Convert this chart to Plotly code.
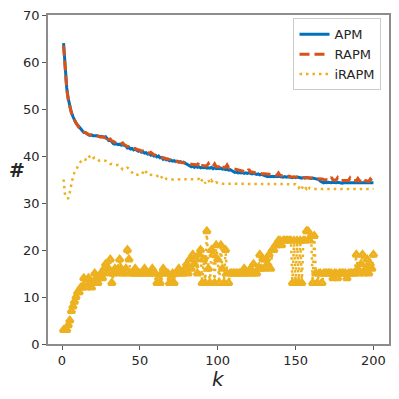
import plotly.graph_objects as go

# ── Colours (MATLAB-like palette) ─────────────────────────────────────────────
BLUE = "#0072BD"
ORANGE = "#D95319"
YELLOW = "#EDB120"
FRAME = "#8c8c8c"
TEXT = "#262626"

# ── Data ─────────────────────────────────────────────────────────────────────
k = list(range(1, 201))

apm = [
    64.0, 58.0, 54.6, 52.2, 50.6, 49.3, 48.4, 47.6, 47.0, 46.6,
    46.2, 45.7, 45.4, 45.0, 45.0, 44.7, 44.5, 44.4, 44.5, 44.3,
    44.3, 44.2, 44.3, 44.1, 44.2, 44.1, 44.0, 44.1, 43.6, 43.3,
    43.4, 43.0, 42.6, 42.5, 42.6, 42.4, 42.5, 42.3, 42.4, 42.3,
    42.1, 41.7, 41.8, 41.5, 41.6, 41.3, 41.5, 41.2, 41.0, 41.2,
    40.8, 40.9, 40.6, 40.7, 40.4, 40.5, 40.2, 40.4, 40.0, 40.1,
    39.8, 40.0, 39.6, 39.7, 39.3, 39.5, 39.2, 39.3, 39.0, 39.1,
    38.9, 39.0, 38.8, 38.9, 38.7, 38.8, 38.6, 38.7, 38.5, 38.4,
    38.2, 38.0, 37.7, 37.9, 37.6, 37.8, 37.6, 37.7, 37.5, 37.6,
    37.5, 37.6, 37.4, 37.5, 37.4, 37.6, 37.3, 37.5, 37.3, 37.4,
    37.3, 37.4, 37.2, 37.3, 37.1, 37.2, 37.0, 37.1, 36.9, 36.6,
    36.5, 36.6, 36.4, 36.5, 36.4, 36.5, 36.3, 36.4, 36.3, 36.4,
    36.3, 36.2, 36.3, 36.2, 36.1, 36.2, 36.0, 36.1, 36.0, 35.9,
    35.8, 35.6, 35.7, 35.6, 35.7, 35.6, 35.7, 35.6, 35.7, 35.6,
    35.6, 35.5, 35.6, 35.5, 35.6, 35.5, 35.5, 35.4, 35.5, 35.4,
    35.5, 35.4, 35.4, 35.3, 35.4, 35.3, 35.4, 35.3, 35.3, 35.2,
    35.3, 35.2, 35.2, 35.1, 35.0, 34.6, 34.4, 34.3, 34.4, 34.3,
    34.4, 34.3, 34.3, 34.4, 34.3, 34.3, 34.4, 34.3, 34.3, 34.2,
    34.3, 34.3, 34.2, 34.3, 34.3, 34.2, 34.3, 34.2, 34.3, 34.2,
    34.3, 34.2, 34.3, 34.2, 34.3, 34.2, 34.3, 34.2, 34.3, 34.3,
]

rapm = [
    63.5, 57.6, 54.3, 52.0, 50.5, 49.2, 48.3, 47.6, 47.0, 46.5,
    46.0, 45.6, 45.3, 45.1, 45.0, 44.8, 44.6, 44.5, 44.4, 44.3,
    44.2, 44.3, 44.2, 44.1, 44.0, 44.1, 44.0, 43.8, 44.3, 43.5,
    43.6, 43.2, 43.1, 42.8, 42.7, 42.6, 42.5, 42.6, 42.8, 42.4,
    42.2, 42.0, 42.0, 41.9, 41.8, 41.7, 41.6, 41.5, 41.4, 41.2,
    41.0, 41.1, 40.9, 40.8, 40.7, 40.6, 40.8, 40.5, 40.3, 40.2,
    40.0, 39.9, 39.8, 39.7, 39.6, 39.5, 39.4, 39.4, 39.3, 39.2,
    39.0, 38.9, 38.9, 38.8, 38.7, 38.7, 38.6, 38.5, 38.5, 38.4,
    38.4, 38.3, 38.3, 38.2, 38.2, 38.1, 38.1, 38.7, 38.0, 38.0,
    37.9, 37.9, 37.9, 38.4, 37.8, 37.8, 37.8, 38.3, 37.7, 37.7,
    37.7, 38.2, 37.6, 37.6, 37.6, 38.1, 37.5, 37.5, 37.4, 37.3,
    37.2, 37.1, 37.0, 36.9, 36.8, 36.8, 36.7, 36.7, 36.6, 37.2,
    36.6, 36.6, 36.5, 36.5, 36.4, 36.4, 36.3, 36.3, 36.2, 36.2,
    36.2, 36.1, 36.1, 36.0, 36.0, 36.0, 35.9, 35.9, 36.4, 35.9,
    35.8, 35.8, 35.8, 35.7, 35.7, 35.7, 35.6, 35.6, 35.6, 35.6,
    35.5, 35.5, 35.5, 35.5, 35.4, 35.4, 35.4, 35.4, 35.3, 35.3,
    35.3, 35.2, 35.2, 35.2, 35.1, 35.1, 35.1, 35.0, 35.0, 35.0,
    35.0, 34.9, 35.5, 34.9, 34.9, 34.9, 35.4, 34.9, 34.8, 34.8,
    34.8, 34.8, 34.8, 34.8, 35.3, 34.8, 34.8, 34.7, 34.7, 35.2,
    34.7, 34.7, 34.7, 35.2, 34.7, 34.7, 34.6, 35.1, 34.7, 34.7,
]

irapm = [
    35.0, 31.5, 31.0, 31.0, 32.3, 34.0, 35.5, 36.5, 37.2, 37.8,
    38.3, 38.8, 39.3, 39.3, 39.2, 39.8, 40.1, 39.7, 39.2, 39.5,
    39.7, 39.5, 39.2, 39.0, 39.0, 39.0, 39.0, 39.0, 38.8, 38.5,
    38.3, 38.3, 38.2, 38.2, 38.1, 38.1, 38.0, 37.5, 37.1, 37.2,
    37.4, 37.5, 37.3, 37.0, 36.5, 36.0, 36.0, 36.0, 36.0, 36.0,
    36.0, 36.5, 37.1, 36.6, 36.0, 36.0, 36.0, 36.0, 35.9, 35.8,
    35.8, 35.5, 35.1, 35.5, 35.8, 35.6, 35.1, 35.1, 35.0, 35.0,
    35.0, 35.0, 35.0, 35.0, 35.0, 35.0, 35.0, 35.0, 35.0, 35.0,
    35.0, 35.0, 35.0, 35.0, 35.0, 35.0, 35.0, 35.1, 34.4, 34.9,
    35.1, 34.2, 34.8, 34.9, 34.2, 34.8, 34.3, 34.1, 34.4, 34.2,
    34.1, 34.1, 34.1, 34.1, 34.1, 34.1, 34.1, 34.1, 34.1, 34.1,
    34.1, 34.1, 34.1, 34.1, 34.1, 34.1, 34.1, 34.1, 34.1, 34.1,
    34.1, 34.1, 34.1, 34.1, 34.1, 34.1, 34.1, 34.1, 34.1, 34.1,
    34.1, 34.1, 34.1, 34.1, 34.1, 34.1, 34.1, 34.1, 34.1, 34.1,
    34.1, 34.1, 34.1, 34.1, 34.1, 34.1, 34.0, 34.0, 34.0, 34.0,
    33.7, 33.2, 33.6, 33.0, 33.8, 33.4, 33.0, 33.6, 33.1, 33.0,
    33.0, 33.0, 33.0, 33.0, 33.0, 33.0, 33.0, 33.0, 33.0, 33.0,
    33.0, 33.0, 33.0, 33.0, 33.0, 33.0, 33.0, 33.0, 33.0, 33.0,
    33.0, 33.0, 33.0, 33.0, 33.0, 33.0, 33.0, 33.0, 33.0, 33.0,
    33.0, 33.0, 33.0, 33.0, 33.0, 33.0, 33.0, 33.0, 33.0, 33.0,
]

lower = [
    3, 3, 3, 4, 5, 7, 8, 9, 10, 11,
    11, 12, 12, 14, 13, 12, 14, 13, 12, 13,
    15, 14, 13, 14, 15, 14, 16, 17, 15, 16,
    18, 13, 15, 16, 15, 16, 18, 16, 15, 15,
    16, 20, 18, 15, 15, 15, 16, 15, 15, 15,
    15, 15, 16, 15, 15, 15, 15, 16, 15, 15,
    13, 14, 13, 15, 16, 15, 15, 15, 13, 14,
    15, 13, 15, 15, 16, 15, 15, 15, 16, 17,
    15, 18, 16, 19, 17, 18, 15, 19, 20, 13,
    18, 13, 24, 16, 13, 20, 19, 13, 21, 18,
    13, 21, 16, 13, 20, 15, 13, 15, 15, 15,
    15, 15, 15, 15, 15, 15, 16, 15, 15, 15,
    16, 15, 17, 15, 15, 16, 19, 16, 18, 16,
    18, 17, 19, 16, 20, 20, 21, 21, 22, 22,
    21, 22, 22, 22, 22, 22, 22, 13, 22, 13,
    22, 13, 22, 13, 22, 22, 24, 24, 22, 23,
    13, 23, 15, 13, 15, 15, 13, 15, 15, 15,
    15, 15, 15, 14, 15, 15, 14, 15, 15, 15,
    15, 15, 14, 15, 15, 15, 15, 15, 19, 16,
    15, 17, 19, 15, 16, 18, 15, 17, 16, 19,
]

x_ticks = [0, 50, 100, 150, 200]
y_ticks = [0, 10, 20, 30, 40, 50, 60, 70]

# ── Figure ───────────────────────────────────────────────────────────────────
fig = go.Figure()

fig.add_trace(go.Scatter(
    x=k, y=apm, name="APM", mode="lines",
    line=dict(color=BLUE, width=3),
))
fig.add_trace(go.Scatter(
    x=k, y=rapm, name="RAPM", mode="lines",
    line=dict(color=ORANGE, width=3, dash="10px,5px"),
))
fig.add_trace(go.Scatter(
    x=k, y=irapm, name="iRAPM", mode="lines",
    line=dict(color=YELLOW, width=2.5, dash="2.5px,4px"),
))
fig.add_trace(go.Scatter(
    x=k, y=lower, mode="lines+markers", showlegend=False,
    line=dict(color=YELLOW, width=2.5, dash="2.5px,4px"),
    marker=dict(symbol="triangle-up-open", size=6, color=YELLOW,
                line=dict(color=YELLOW, width=3)),
))

axis_common = dict(
    showgrid=False, zeroline=False, automargin=False,
    ticklabeloverflow="allow",
    showline=True, mirror=True, linecolor=FRAME, linewidth=1.5,
    ticks="outside", ticklen=4, tickwidth=1, tickcolor="#555555",
    tickfont=dict(family="DejaVu Sans", size=13, color=TEXT),
)

# the page body adds an 8px offset, so the figure is drawn 8px smaller
fig.update_layout(
    width=391, height=391,
    paper_bgcolor="white", plot_bgcolor="white",
    margin=dict(l=40, r=10, t=7, b=55),
    xaxis=dict(range=[-9, 210], tickvals=x_ticks, **axis_common),
    yaxis=dict(range=[0, 70], tickvals=y_ticks, **axis_common),
    legend=dict(
        x=0.978, y=0.99, xanchor="right", yanchor="top",
        bgcolor="rgba(255,255,255,0.85)", bordercolor="#cccccc", borderwidth=1,
        font=dict(family="DejaVu Sans", size=13, color=TEXT),
        itemwidth=30, tracegroupgap=0,
    ),
    annotations=[
        dict(text="<i>k</i>", x=0.5, y=-0.105, xref="paper", yref="paper",
             showarrow=False, xanchor="center", yanchor="middle",
             font=dict(family="DejaVu Sans", size=20, color=TEXT)),
        dict(text="<b>#</b>", x=-0.092, y=0.53, xref="paper", yref="paper",
             showarrow=False, xanchor="center", yanchor="middle",
             font=dict(family="DejaVu Sans", size=19, color=TEXT)),
    ],
)

fig.write_html("out.html")
